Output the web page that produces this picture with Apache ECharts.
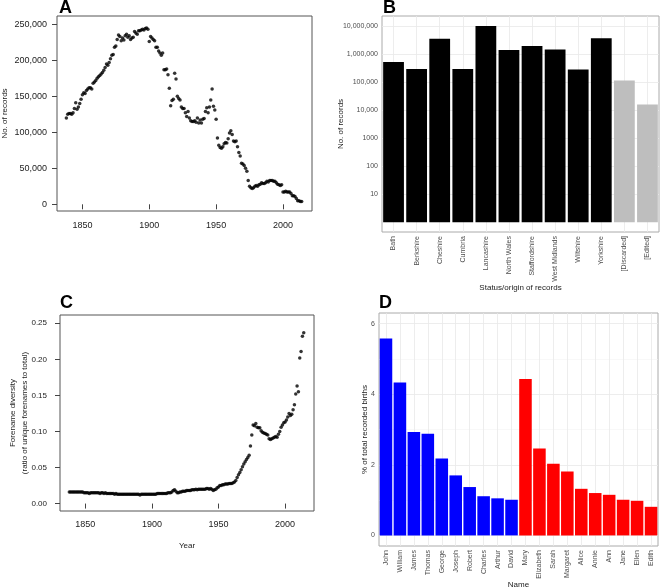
<!DOCTYPE html>
<html>
<head>
<meta charset="utf-8">
<script src="https://cdn.jsdelivr.net/npm/echarts@6/dist/echarts.min.js"></script>
<style>
  html, body { margin: 0; padding: 0; background: #fff; }
  #chart { width: 660px; height: 588px; }
</style>
</head>
<body>
<div id="chart"></div>
<script>
// years covered by panels A and C
const years = [];
for (let y = 1838; y <= 2014; y++) years.push(y);

// A: number of records per year, in thousands
const recordsK = [
  120, 125, 126, 126, 125, 127, 133, 141, 132, 135,
  140, 146, 152, 155, 154, 158, 160, 162, 162, 160,
  168, 170, 172, 175, 177, 179, 181, 183, 186, 190,
  195, 193, 197, 202, 207, 208, 218, 220, 229, 235,
  233, 227, 231, 228, 234, 236, 232, 234, 229, 231,
  232, 240, 238, 236, 241, 241, 242, 243, 242, 244,
  245, 243, 226, 233, 231, 229, 227, 218, 218, 213,
  210, 207, 210, 187, 187, 188, 180, 161, 137, 144,
  146, 182, 174, 150, 147, 145, 135, 133, 133, 127,
  122, 129, 120, 116, 115, 115, 116, 114, 120, 113,
  117, 113, 118, 119, 129, 134, 127, 135, 145, 160,
  136, 131, 118, 92, 82, 79, 78, 80, 84, 86,
  85, 91, 99, 102, 97, 88, 87, 88, 80, 72,
  67, 57, 56, 54, 50, 46, 33, 25, 23, 22,
  23, 25, 26, 25, 27, 28, 30, 29, 29, 30,
  32, 31, 33, 33, 33, 32, 32, 30, 28, 27,
  26, 27, 17, 17, 18, 17, 17, 17, 15, 12,
  12, 11, 8, 5, 5, 4, 4
];

// C: forename diversity per year
const diversity = [
  .016, .016, .016, .016, .016, .016, .016, .016, .016, .016,
  .016, .015, .015, .015, .015, .014, .015, .015, .015, .015,
  .015, .015, .015, .014, .015, .015, .014, .015, .014, .014,
  .014, .014, .014, .014, .013, .014, .013, .013, .013, .013,
  .013, .013, .013, .013, .013, .013, .013, .013, .013, .013,
  .013, .013, .013, .012, .013, .013, .013, .013, .013, .013,
  .013, .013, .013, .013, .013, .013, .014, .014, .014, .014,
  .014, .014, .014, .014, .015, .015, .015, .016, .018, .019,
  .017, .015, .015, .016, .016, .017, .017, .017, .018, .018,
  .018, .018, .019, .019, .019, .020, .019, .020, .020, .020,
  .020, .020, .020, .021, .021, .020, .021, .020, .018, .019,
  .020, .022, .023, .025, .025, .026, .026, .027, .027, .027,
  .028, .028, .028, .029, .030, .032, .036, .040, .043, .047,
  .051, .055, .058, .061, .064, .067, .080, .095, .109, .108,
  .111, .106, .105, .105, .101, .099, .098, .097, .096, .095,
  .090, .089, .090, .091, .092, .093, .092, .096, .100, .106,
  .109, .112, .113, .116, .120, .125, .122, .124, .130, .137,
  .152, .163, .155, .202, .211, .232, .237
];

// B: records by status/origin
const origins = ['Bath', 'Berkshire', 'Cheshire', 'Cumbria', 'Lancashire', 'North Wales',
  'Staffordshire', 'West Midlands', 'Wiltshire', 'Yorkshire', '[Discarded]', '[Edited]'];
const originCounts = [510000, 288000, 3450000, 288000, 9800000, 1370000,
  1900000, 1440000, 280000, 3600000, 112000, 15700];
const logTicks = [10, 100, 1000, 10000, 100000, 1000000, 10000000];

// D: top forenames
const names = ['John', 'William', 'James', 'Thomas', 'George', 'Joseph', 'Robert', 'Charles', 'Arthur', 'David',
  'Mary', 'Elizabeth', 'Sarah', 'Margaret', 'Alice', 'Annie', 'Ann', 'Jane', 'Ellen', 'Edith'];
const namePct = [5.58, 4.33, 2.93, 2.88, 2.18, 1.70, 1.37, 1.11, 1.05, 1.01,
  4.43, 2.46, 2.03, 1.81, 1.32, 1.20, 1.15, 1.01, 0.98, 0.81];
const nameSex = ['m', 'm', 'm', 'm', 'm', 'm', 'm', 'm', 'm', 'm',
  'f', 'f', 'f', 'f', 'f', 'f', 'f', 'f', 'f', 'f'];

const yearTicks = [1850, 1900, 1950, 2000];
const recordTicks = [0, 50, 100, 150, 200, 250];
const diversityTicks = [0, 0.05, 0.1, 0.15, 0.2, 0.25];

const font = 'Liberation Sans, Arial, sans-serif';
const baseTick = { length: 5, lineStyle: { color: '#444' } };
const ggText = { fontSize: 7, color: '#4d4d4d', fontFamily: font };
const ggTitle = { fontSize: 8, color: '#222', fontFamily: font };

const chart = echarts.init(document.getElementById('chart'));

const gridBase = { show: true, backgroundColor: '#fff', borderWidth: 1, containLabel: false, outerBoundsMode: 'none' };

const option = {
  animation: false,
  textStyle: { fontFamily: font },
  title: [
    { text: 'A', left: 59, top: -1 },
    { text: 'B', left: 383, top: -1 },
    { text: 'C', left: 60, top: 294 },
    { text: 'D', left: 379, top: 294 }
  ].map((t) => ({
    ...t,
    padding: 0,
    textStyle: { fontSize: 18, fontWeight: 'bold', color: '#000', fontFamily: font }
  })),
  grid: [
    { ...gridBase, left: 57, top: 16, width: 255, height: 195, borderColor: '#555' },
    { ...gridBase, left: 382, top: 16, width: 277, height: 216, borderColor: '#aaa' },
    { ...gridBase, left: 60, top: 315, width: 254, height: 196, borderColor: '#555' },
    { ...gridBase, left: 379, top: 313, width: 279, height: 233, borderColor: '#aaa' }
  ],
  xAxis: [
    {
      gridIndex: 0, type: 'value', min: 1831, max: 2021.7,
      axisLine: { show: false },
      axisTick: { ...baseTick, customValues: yearTicks },
      axisLabel: { customValues: yearTicks, fontSize: 9, color: '#222', margin: 10, formatter: (v) => String(v) },
      splitLine: { show: false }
    },
    {
      gridIndex: 1, type: 'category', data: origins,
      axisLine: { show: false },
      axisTick: { alignWithLabel: true, length: 3, lineStyle: { color: '#555' } },
      axisLabel: { ...ggText, rotate: 90, interval: 0, margin: 4 },
      splitLine: { show: true, alignWithLabel: true, lineStyle: { color: '#e8e8e8', width: 0.8 } },
      name: 'Status/origin of records', nameLocation: 'middle', nameGap: 51.5, nameMoveOverlap: false,
      nameTextStyle: ggTitle
    },
    {
      gridIndex: 2, type: 'value', min: 1831, max: 2021.7,
      axisLine: { show: false },
      axisTick: { ...baseTick, customValues: yearTicks },
      axisLabel: { customValues: yearTicks, fontSize: 9, color: '#222', margin: 9, formatter: (v) => String(v) },
      splitLine: { show: false },
      name: 'Year', nameLocation: 'middle', nameGap: 30.5, nameMoveOverlap: false,
      nameTextStyle: { fontSize: 8, color: '#222' }
    },
    {
      gridIndex: 3, type: 'category', data: names,
      axisLine: { show: false },
      axisTick: { alignWithLabel: true, length: 3, lineStyle: { color: '#555' } },
      axisLabel: { ...ggText, rotate: 90, interval: 0, margin: 4 },
      splitLine: { show: true, alignWithLabel: true, lineStyle: { color: '#e8e8e8', width: 0.8 } },
      name: 'Name', nameLocation: 'middle', nameGap: 34.5, nameMoveOverlap: false,
      nameTextStyle: ggTitle
    }
  ],
  yAxis: [
    {
      gridIndex: 0, type: 'value', min: -9.3, max: 261.5,
      axisLine: { show: false },
      axisTick: { ...baseTick, customValues: recordTicks },
      axisLabel: {
        customValues: recordTicks, fontSize: 9, color: '#222', margin: 10,
        formatter: (v) => (v === 0 ? '0' : v + ',000')
      },
      splitLine: { show: false },
      name: 'No. of records', nameLocation: 'middle', nameGap: 48, nameMoveOverlap: false,
      nameTextStyle: { fontSize: 8, color: '#222' }
    },
    {
      gridIndex: 1, type: 'log', logBase: 10, min: 0.447, max: 22400000,
      axisLine: { show: false },
      axisTick: { length: 3, customValues: logTicks, lineStyle: { color: '#555' } },
      axisLabel: {
        ...ggText, customValues: logTicks, margin: 4,
        formatter: (v) => (v === 1000 ? '1000' : Number(v).toLocaleString('en-US'))
      },
      splitLine: { show: true, lineStyle: { color: '#e8e8e8', width: 0.8 } },
      name: 'No. of records', nameLocation: 'middle', nameGap: 37.5, nameMoveOverlap: false,
      nameTextStyle: ggTitle
    },
    {
      gridIndex: 2, type: 'value', min: -0.0103, max: 0.2615,
      axisLine: { show: false },
      axisTick: { ...baseTick, customValues: diversityTicks },
      axisLabel: {
        customValues: diversityTicks, fontSize: 8, color: '#222', margin: 13,
        formatter: (v) => Number(v).toFixed(2)
      },
      splitLine: { show: false },
      name: 'Forename diversity\n(ratio of unique forenames to total)',
      nameLocation: 'middle', nameGap: 29, nameMoveOverlap: false,
      nameTextStyle: { fontSize: 8, color: '#222', lineHeight: 12 }
    },
    {
      gridIndex: 3, type: 'value', min: -0.3, max: 6.3,
      axisLine: { show: false },
      axisTick: { length: 3, customValues: [0, 2, 4, 6], lineStyle: { color: '#555' } },
      axisLabel: { ...ggText, customValues: [0, 2, 4, 6], margin: 4 },
      splitLine: { show: true, lineStyle: { color: '#e8e8e8', width: 0.8 } },
      name: '% of total recorded births', nameLocation: 'middle', nameGap: 10, nameMoveOverlap: false,
      nameTextStyle: ggTitle
    },
    {
      // minor grid lines of panel D
      gridIndex: 3, type: 'value', min: -0.3, max: 6.3, position: 'left',
      axisLine: { show: false },
      axisTick: { show: false, customValues: [1, 3, 5] },
      axisLabel: { show: false },
      splitLine: { show: true, lineStyle: { color: '#f3f3f3', width: 0.6 } }
    }
  ],
  series: [
    {
      type: 'scatter', xAxisIndex: 0, yAxisIndex: 0,
      symbolSize: 3.5, itemStyle: { color: '#000' },
      data: years.map((y, i) => [y, recordsK[i]])
    },
    {
      type: 'bar', xAxisIndex: 1, yAxisIndex: 1, barCategoryGap: '10%',
      data: originCounts.map((v, i) => ({
        value: v,
        itemStyle: { color: origins[i].startsWith('[') ? '#bebebe' : '#000' }
      }))
    },
    {
      type: 'scatter', xAxisIndex: 2, yAxisIndex: 2,
      symbolSize: 3.5, itemStyle: { color: '#000' },
      data: years.map((y, i) => [y, diversity[i]])
    },
    {
      type: 'bar', xAxisIndex: 3, yAxisIndex: 3, barCategoryGap: '10%',
      data: namePct.map((v, i) => ({
        value: v,
        itemStyle: { color: nameSex[i] === 'm' ? '#0000ff' : '#ff0000' }
      }))
    }
  ]
};

chart.setOption(option);
</script>
</body>
</html>
